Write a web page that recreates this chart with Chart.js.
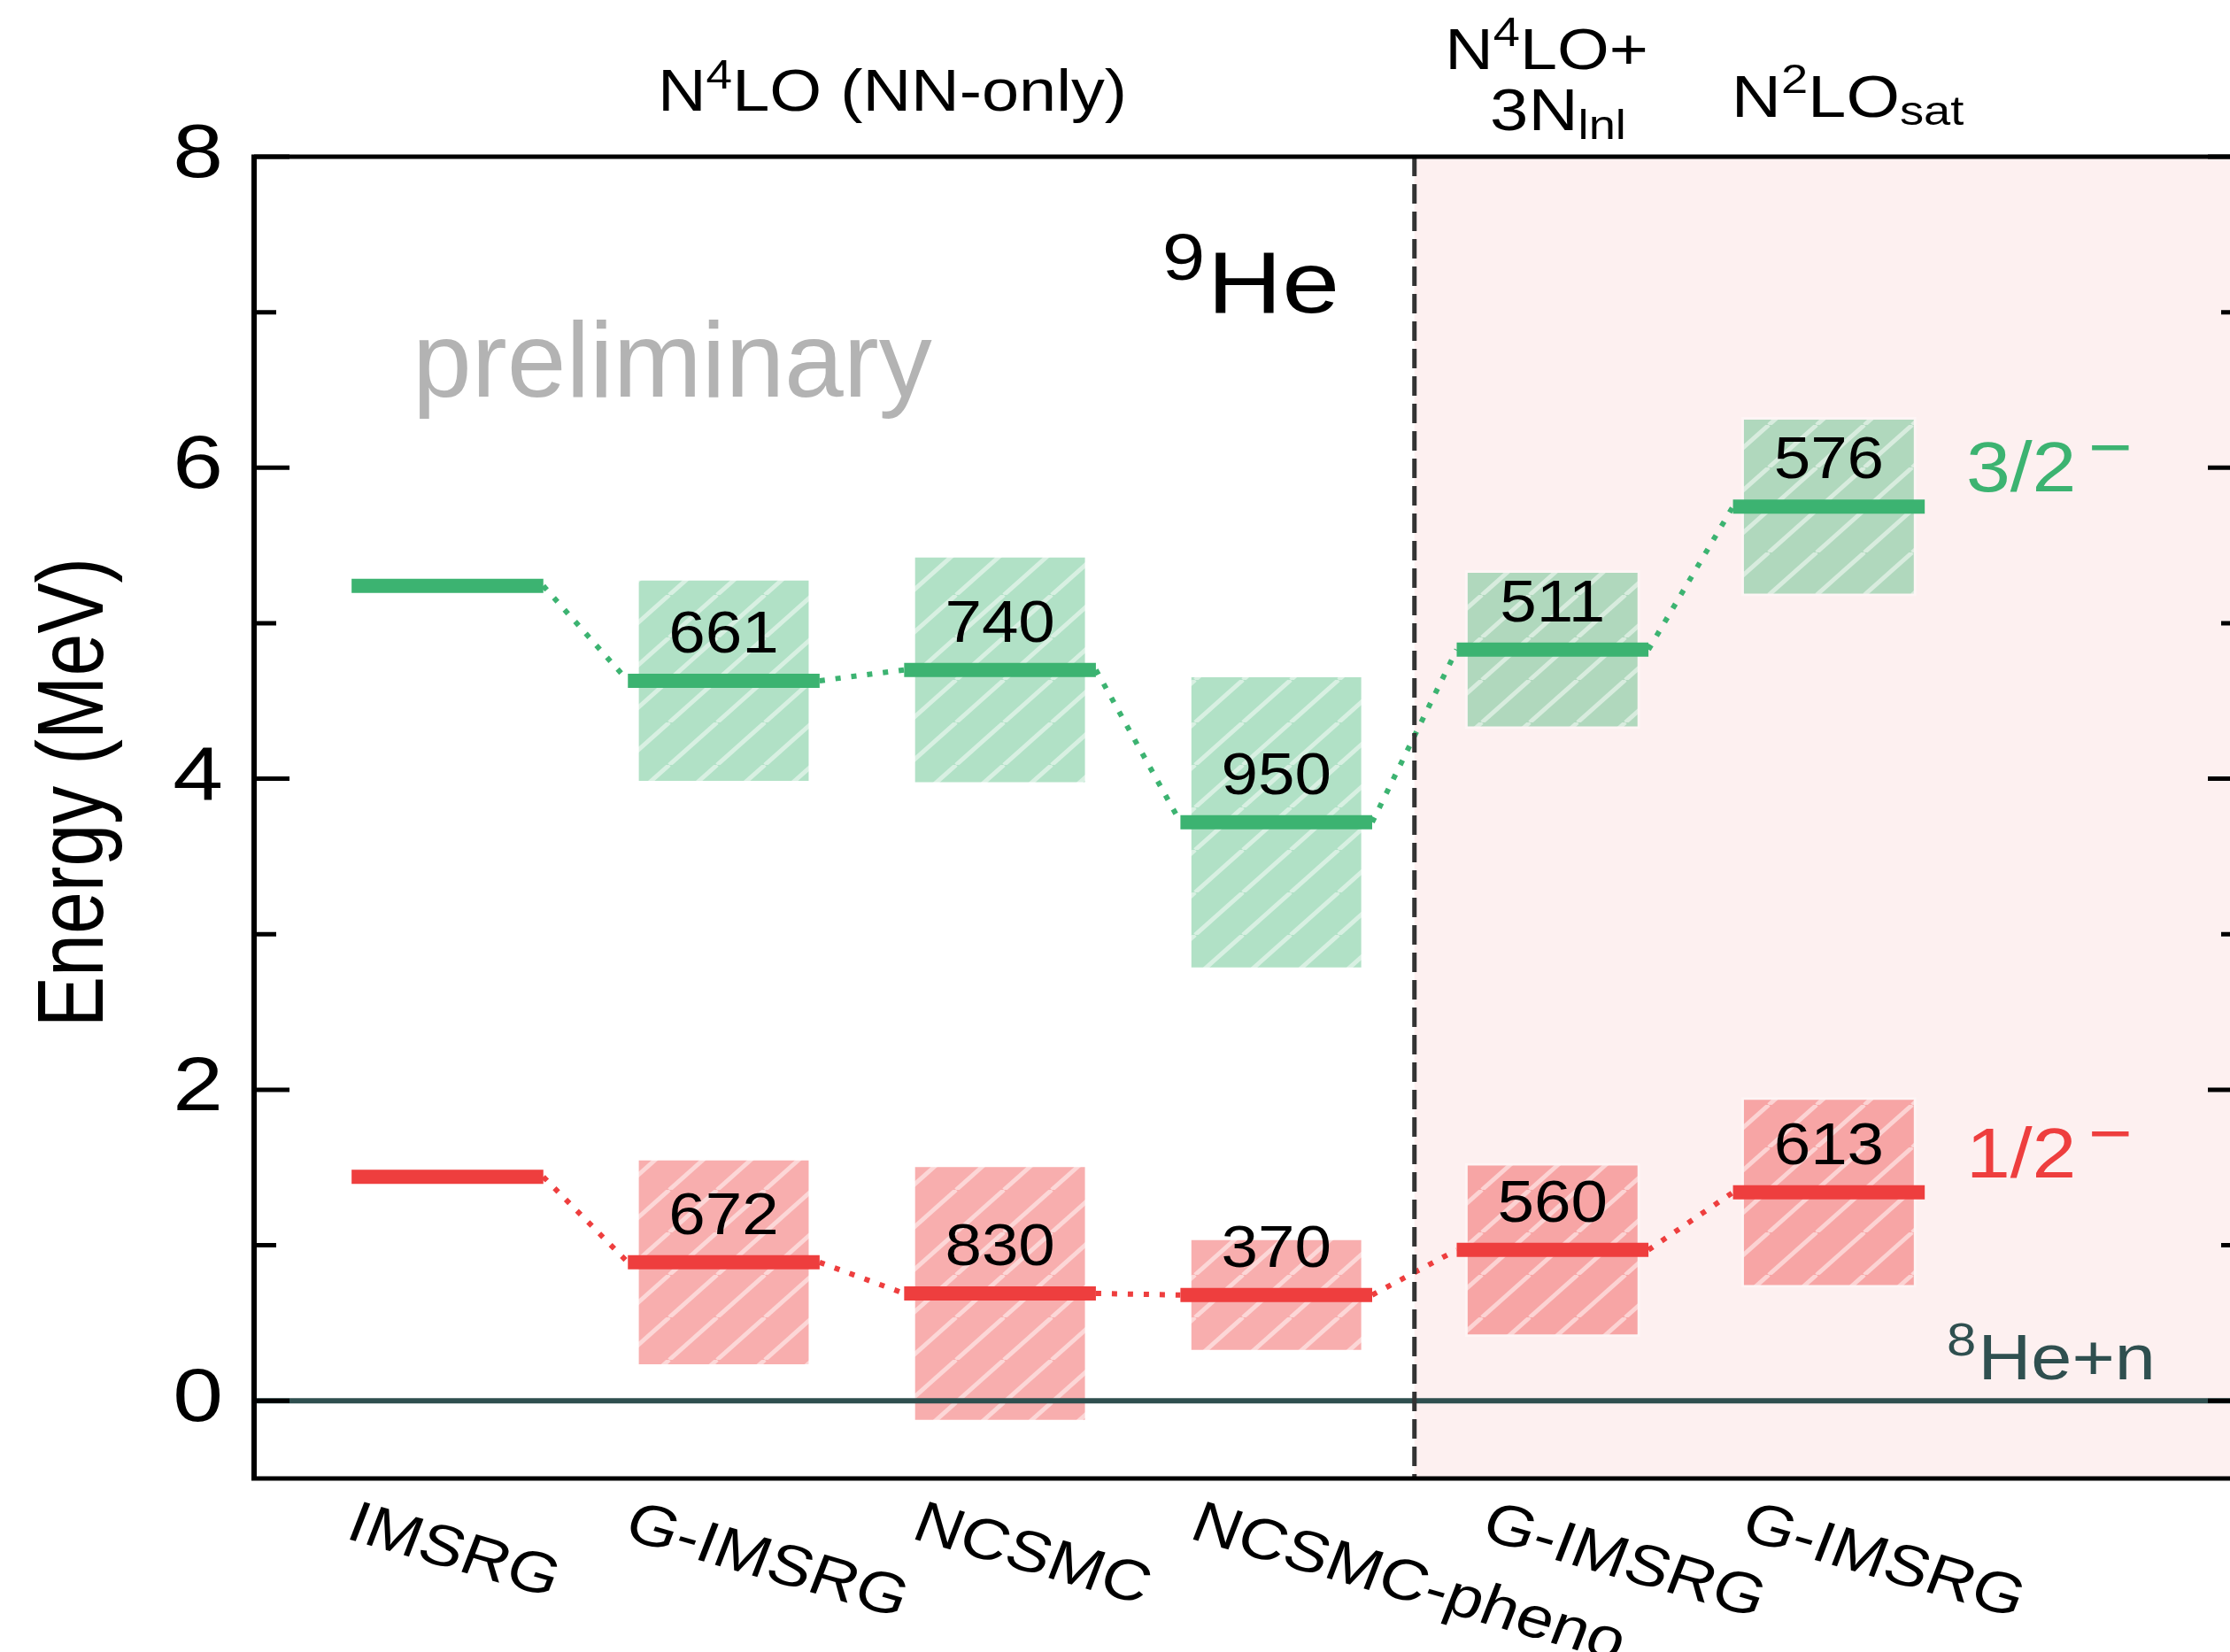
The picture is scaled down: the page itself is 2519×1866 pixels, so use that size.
<!DOCTYPE html>
<html>
<head>
<meta charset="utf-8">
<title>9He resonances</title>
<script src="https://cdn.jsdelivr.net/npm/chart.js@4/dist/chart.umd.min.js"></script>
<style>
  html, body { margin: 0; padding: 0; background: #ffffff; overflow: hidden; }
  #wrap { position: relative; width: 2545px; height: 1866px; }
</style>
</head>
<body>
<div id="wrap"><canvas id="chart"></canvas></div>
<script>
// ---- data -------------------------------------------------------------
// calculation methods, one column each (x = 0..5)
const methods = ['IMSRG', 'G-IMSRG', 'NCSMC', 'NCSMC-pheno', 'G-IMSRG', 'G-IMSRG'];

// 3/2- resonance: energy above 8He+n (MeV) and width (keV)
const energy32 = [5.24, 4.63, 4.70, 3.72, 4.83, 5.75];
const width32  = [null, 661, 740, 950, 511, 576];

// 1/2- resonance: energy above 8He+n (MeV) and width (keV)
const energy12 = [1.44, 0.89, 0.69, 0.68, 0.97, 1.34];
const width12  = [null, 672, 830, 370, 560, 613];

// energy axis
const yMajorTicks = [0, 2, 4, 6, 8];
const yMinorTicks = [1, 3, 5, 7];

// ---- styling ------------------------------------------------------------
const FONT = "'Liberation Sans', Arial, Helvetica, sans-serif";
const GREEN = '#3cb371';
const GREEN_FILL = 'rgba(60,179,113,0.40)';
const RED = '#ee3e3e';
const RED_FILL = 'rgba(238,62,62,0.42)';
const SLATE = '#2f4f4f';
const LEVEL_HALF = 0.347;      // half length of a level bar, x units
const SPLIT_AT = 3.5;          // boundary between NN-only and NN+3N columns
const LABEL_SHIFT = [-117, -115, -102, -100, -83, -102]; // method label start, px from column

// ---- dataset builders --------------------------------------------------
function levelPoints(E) {
  const pts = [];
  E.forEach((e, i) => {
    pts.push({ x: i - LEVEL_HALF, y: e }, { x: i + LEVEL_HALF, y: e }, { x: i + 0.5, y: null });
  });
  return pts;
}
function linkPoints(E) {
  const pts = [];
  for (let i = 0; i < E.length - 1; i++) {
    pts.push({ x: i + LEVEL_HALF, y: E[i] }, { x: i + 1 - LEVEL_HALF, y: E[i + 1] }, { x: i + 1, y: null });
  }
  return pts;
}
// band = energy +/- width (keV -> MeV)
function bandPoints(E, W) {
  const pts = [];
  E.forEach((e, i) => {
    if (W[i] != null) pts.push({ x: i, y: [e - W[i] / 1000, e + W[i] / 1000] });
  });
  return pts;
}
function hatch(fill) {
  const w = 54, h = 48;
  const c = document.createElement('canvas');
  c.width = w; c.height = h;
  const g = c.getContext('2d');
  g.fillStyle = fill;
  g.fillRect(0, 0, w, h);
  g.strokeStyle = 'rgba(255,255,255,0.50)';
  g.lineWidth = 5;
  for (let k = -1; k <= 1; k++) {
    g.beginPath();
    g.moveTo(k * w, h);
    g.lineTo(k * w + w, 0);
    g.stroke();
  }
  return g.createPattern(c, 'repeat');
}

// ---- text helper: runs of text with sizes / raise, optional stretch & rotation
function drawRuns(ctx, runs, x, y, o) {
  o = o || {};
  const sx = o.sx || 1, align = o.align || 'left';
  ctx.save();
  ctx.translate(x, y);
  ctx.scale(sx, 1);
  if (o.rotate) ctx.rotate(o.rotate);
  ctx.fillStyle = o.color || '#000';
  ctx.textBaseline = 'alphabetic';
  ctx.textAlign = 'left';
  let total = 0;
  const ws = runs.map(r => {
    ctx.font = r.size + 'px ' + FONT;
    const w = ctx.measureText(r.text).width;
    total += w + (r.gap || 0);
    return w;
  });
  let cx = align === 'center' ? -total / 2 : (align === 'right' ? -total : 0);
  runs.forEach((r, k) => {
    cx += r.gap || 0;
    ctx.font = r.size + 'px ' + FONT;
    ctx.fillText(r.text, cx, -(r.rise || 0));
    cx += ws[k];
  });
  ctx.restore();
}

// ---- drawing plugin: shaded region, threshold, frame, annotations -------
const scene = {
  id: 'scene',
  beforeDatasetsDraw(chart) {
    const { ctx, chartArea: a, scales: { x } } = chart;
    const xs = x.getPixelForValue(SPLIT_AT);
    ctx.save();
    ctx.fillStyle = '#fdf0f0';
    ctx.fillRect(xs, a.top, a.right - xs, a.bottom - a.top);
    ctx.restore();
  },
  afterDatasetsDraw(chart) {
    const { ctx, chartArea: a, scales: { x, y } } = chart;
    ctx.save();
    // 8He + n threshold
    const y0 = y.getPixelForValue(0);
    ctx.strokeStyle = SLATE;
    ctx.lineWidth = 6;
    ctx.beginPath(); ctx.moveTo(a.left, y0); ctx.lineTo(a.right, y0); ctx.stroke();
    // separator between interaction families
    const xs = x.getPixelForValue(SPLIT_AT);
    ctx.strokeStyle = '#333333';
    ctx.lineWidth = 5;
    ctx.setLineDash([22, 9]);
    ctx.beginPath(); ctx.moveTo(xs, a.top); ctx.lineTo(xs, a.bottom); ctx.stroke();
    ctx.setLineDash([]);
    ctx.restore();

    // widths (keV) written above each level
    [[energy32, width32], [energy12, width12]].forEach(([E, W]) => {
      E.forEach((e, i) => {
        if (W[i] == null) return;
        drawRuns(ctx, [{ text: String(W[i]), size: 66 }],
          x.getPixelForValue(i), y.getPixelForValue(e) - 32, { sx: 1.13, align: 'center' });
      });
    });

    // state labels next to the last column
    const last = methods.length - 1;
    const lx = x.getPixelForValue(last) + 155;
    drawRuns(ctx, [{ text: '3/2', size: 80 }, { text: '\u2212', size: 76, rise: 24, gap: 12 }],
      lx, y.getPixelForValue(energy32[last]) - 17, { sx: 1.12, color: GREEN });
    drawRuns(ctx, [{ text: '1/2', size: 80 }, { text: '\u2212', size: 76, rise: 24, gap: 12 }],
      lx, y.getPixelForValue(energy12[last]) - 17, { sx: 1.12, color: RED });
    drawRuns(ctx, [{ text: '8', size: 52, rise: 27 }, { text: 'He+n', size: 72, gap: 2 }],
      2199, y.getPixelForValue(0) - 24, { sx: 1.15, color: SLATE });

    // nucleus and watermark
    drawRuns(ctx, [{ text: '9', size: 74, rise: 37 }, { text: 'He', size: 99, gap: 2 }],
      1413, 353, { sx: 1.18, align: 'center' });
    drawRuns(ctx, [{ text: 'preliminary', size: 120 }], 466, 448, { color: '#b3b3b3' });
  },
  afterDraw(chart) {
    const { ctx, chartArea: a, scales: { x, y } } = chart;
    ctx.save();
    // frame
    ctx.strokeStyle = '#000';
    ctx.lineWidth = 5;
    ctx.beginPath();
    ctx.moveTo(a.left - 3, a.top); ctx.lineTo(a.right + 3, a.top);
    ctx.moveTo(a.left - 3, a.bottom); ctx.lineTo(a.right + 3, a.bottom);
    ctx.stroke();
    ctx.lineWidth = 6;
    ctx.beginPath();
    ctx.moveTo(a.left, a.top); ctx.lineTo(a.left, a.bottom);
    ctx.moveTo(a.right, a.top); ctx.lineTo(a.right, a.bottom);
    ctx.stroke();
    // inward ticks on both sides
    ctx.lineWidth = 5;
    const tick = (v, len) => {
      const py = y.getPixelForValue(v);
      ctx.beginPath();
      ctx.moveTo(a.left, py); ctx.lineTo(a.left + len, py);
      ctx.moveTo(a.right, py); ctx.lineTo(a.right - len, py);
      ctx.stroke();
    };
    yMajorTicks.forEach(v => tick(v, 40));
    yMinorTicks.forEach(v => tick(v, 25));
    ctx.restore();

    // tick labels
    yMajorTicks.forEach(v => {
      drawRuns(ctx, [{ text: String(v), size: 85 }], a.left - 35, y.getPixelForValue(v) + 23,
        { sx: 1.2, align: 'right' });
    });
    // axis title
    drawRuns(ctx, [{ text: 'Energy (MeV)', size: 86 }], 116, 895,
      { sx: 1.22, align: 'center', rotate: -Math.PI / 2 });
    // method labels under each column
    const rot = 18.5 * Math.PI / 180;
    methods.forEach((m, i) => {
      drawRuns(ctx, [{ text: m, size: 65 }], x.getPixelForValue(i) + LABEL_SHIFT[i], 1737,
        { sx: 1.16, rotate: rot });
    });
    // interaction headers
    drawRuns(ctx, [{ text: 'N', size: 67 }, { text: '4', size: 47, rise: 25 }, { text: 'LO (NN-only)', size: 67 }],
      1008, 125, { sx: 1.13, align: 'center' });
    drawRuns(ctx, [{ text: 'N', size: 64 }, { text: '4', size: 46, rise: 26 }, { text: 'LO+', size: 64 }],
      1747, 78, { sx: 1.18, align: 'center' });
    drawRuns(ctx, [{ text: '3N', size: 66 }, { text: 'lnl', size: 46, rise: -10 }],
      1760, 147, { sx: 1.18, align: 'center' });
    drawRuns(ctx, [{ text: 'N', size: 66 }, { text: '2', size: 46, rise: 27 }, { text: 'LO', size: 66 }, { text: 'sat', size: 46, rise: -9 }],
      2087, 132, { sx: 1.18, align: 'center' });
  }
};

// ---- chart --------------------------------------------------------------
new Chart(document.getElementById('chart').getContext('2d'), {
  type: 'bar',
  data: {
    datasets: [
      { type: 'line', label: '3/2- level', data: levelPoints(energy32), borderColor: GREEN, borderWidth: 16,
        borderCapStyle: 'butt', pointRadius: 0, spanGaps: false, tension: 0, fill: false, order: 1 },
      { type: 'line', label: '1/2- level', data: levelPoints(energy12), borderColor: RED, borderWidth: 16,
        borderCapStyle: 'butt', pointRadius: 0, spanGaps: false, tension: 0, fill: false, order: 1 },
      { type: 'line', label: '3/2- trend', data: linkPoints(energy32), borderColor: GREEN, borderWidth: 6,
        borderDash: [6, 12], borderCapStyle: 'butt', pointRadius: 0, spanGaps: false, tension: 0, fill: false, order: 2 },
      { type: 'line', label: '1/2- trend', data: linkPoints(energy12), borderColor: RED, borderWidth: 6,
        borderDash: [6, 12], borderCapStyle: 'butt', pointRadius: 0, spanGaps: false, tension: 0, fill: false, order: 2 },
      { type: 'bar', label: '3/2- width', data: bandPoints(energy32, width32), backgroundColor: hatch(GREEN_FILL),
        borderColor: 'rgba(255,255,255,0.35)', borderWidth: 3, borderSkipped: false,
        grouped: false, barPercentage: 0.634, categoryPercentage: 1, order: 3 },
      { type: 'bar', label: '1/2- width', data: bandPoints(energy12, width12), backgroundColor: hatch(RED_FILL),
        borderColor: 'rgba(255,255,255,0.35)', borderWidth: 3, borderSkipped: false,
        grouped: false, barPercentage: 0.634, categoryPercentage: 1, order: 3 }
    ]
  },
  options: {
    responsive: true,
    maintainAspectRatio: false,
    animation: false,
    devicePixelRatio: 1,
    layout: { padding: { left: 287, top: 177, right: 11, bottom: 196 } },
    plugins: { legend: { display: false }, tooltip: { enabled: false } },
    scales: {
      x: {
        type: 'linear', min: -0.7, max: 6.5, offset: false,
        afterBuildTicks: s => { s.ticks = methods.map((m, i) => ({ value: i })); },
        afterFit: s => { s.height = 0; },
        ticks: { display: false }, grid: { display: false }, border: { display: false }
      },
      y: {
        type: 'linear', min: -0.5, max: 8,
        afterFit: s => { s.width = 0; },
        ticks: { display: false }, grid: { display: false }, border: { display: false }
      }
    }
  },
  plugins: [scene]
});
</script>
</body>
</html>
